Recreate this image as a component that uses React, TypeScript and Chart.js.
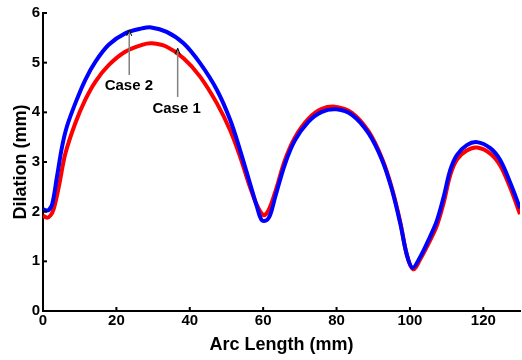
import React, { useEffect, useRef } from "react";
import { Chart, registerables } from "chart.js";

Chart.register(...registerables);

// Case 2 (blue)
const case2X = [0, 0.6, 1.5, 2.5, 3.8, 5.2, 6.5, 8.8, 11.5, 14.3, 17.9, 22.4, 27.0, 29.5, 33.7, 38.3, 42.8, 47.4, 51.0, 53.7, 56.4, 58.3, 59.6, 61, 62, 63.3, 66, 68.7, 72.3, 76, 80, 84.2, 88.7, 92.4, 95.1, 97.4, 99.2, 100.7, 102.8, 105.5, 107.4, 109.2, 111, 112.8, 115.5, 118.3, 121.9, 124.6, 127.4, 130];
const case2Y = [2.05, 2.03, 2.03, 2.15, 2.7, 3.31, 3.71, 4.18, 4.65, 5.02, 5.36, 5.59, 5.69, 5.71, 5.62, 5.39, 4.99, 4.45, 3.85, 3.24, 2.57, 2.1, 1.83, 1.83, 1.95, 2.3, 2.97, 3.44, 3.81, 4.01, 4.06, 3.95, 3.58, 3.04, 2.44, 1.75, 1.12, 0.87, 1.09, 1.5, 1.83, 2.3, 2.84, 3.14, 3.34, 3.4, 3.28, 3.04, 2.57, 2.07];

// Case 1 (red)
const case1X = [0, 1.1, 2.0, 2.9, 4.3, 6.1, 8.8, 11.5, 14.3, 17.9, 22.4, 27.0, 29.7, 33.7, 38.3, 42.8, 47.4, 51.0, 53.7, 56.4, 58.3, 60.1, 61.4, 63.3, 66, 68.7, 72.3, 76, 80, 84.2, 88.7, 92.4, 95.1, 97.4, 99.2, 100.9, 102.8, 105.5, 107.4, 109.2, 111, 112.8, 115.5, 118.3, 121.9, 124.6, 127.4, 130];
const case1Y = [1.92, 1.88, 1.92, 2.05, 2.5, 3.17, 3.78, 4.25, 4.62, 4.95, 5.22, 5.36, 5.39, 5.32, 5.09, 4.72, 4.18, 3.64, 3.11, 2.5, 2.13, 1.93, 2.02, 2.4, 3.05, 3.5, 3.87, 4.07, 4.11, 3.99, 3.62, 3.07, 2.47, 1.78, 1.12, 0.84, 1.04, 1.42, 1.73, 2.18, 2.74, 3.05, 3.23, 3.29, 3.17, 2.93, 2.47, 1.95];

const xTicks = [0, 20, 40, 60, 80, 100, 120];
const yTicks = [0, 1, 2, 3, 4, 5, 6];

// annotations: label, arrow x, arrow bottom y, arrow tip y, text x, text y (data units)
const annLabels = ["Case 2", "Case 1"];
const annX = [23.5, 36.7];
const annFromY = [4.75, 4.31];
const annToY = [5.66, 5.29];
const annTextX = [23.4, 36.4];
const annTextY = [4.53, 4.07];

const FONT = "'Liberation Sans', Arial, sans-serif";

const extrasPlugin = {
  id: "extras",
  afterDraw(chart: any) {
    const { ctx, chartArea, scales } = chart;
    const xs = scales.x;
    const ys = scales.y;
    ctx.save();
    ctx.strokeStyle = "#000";
    ctx.lineWidth = 2;
    xTicks.forEach((v) => {
      const px = xs.getPixelForValue(v);
      ctx.beginPath();
      ctx.moveTo(px, chartArea.bottom);
      ctx.lineTo(px, chartArea.bottom - 4);
      ctx.stroke();
    });
    yTicks.forEach((v) => {
      const py = ys.getPixelForValue(v);
      ctx.beginPath();
      ctx.moveTo(chartArea.left, py);
      ctx.lineTo(chartArea.left + 4, py);
      ctx.stroke();
    });
    annLabels.forEach((label, i) => {
      const ax = xs.getPixelForValue(annX[i]);
      const ay0 = ys.getPixelForValue(annFromY[i]);
      const ay1 = ys.getPixelForValue(annToY[i]);
      ctx.strokeStyle = "#808080";
      ctx.lineWidth = 1.5;
      ctx.beginPath();
      ctx.moveTo(ax, ay0);
      ctx.lineTo(ax, ay1);
      ctx.stroke();
      ctx.strokeStyle = "#000";
      ctx.lineWidth = 1;
      ctx.beginPath();
      ctx.moveTo(ax - 2.5, ay1 + 6);
      ctx.lineTo(ax, ay1);
      ctx.lineTo(ax + 2.5, ay1 + 6);
      ctx.stroke();
      ctx.fillStyle = "#000";
      ctx.font = `bold 15px ${FONT}`;
      ctx.textAlign = "center";
      ctx.textBaseline = "middle";
      ctx.fillText(label, xs.getPixelForValue(annTextX[i]), ys.getPixelForValue(annTextY[i]));
    });
    ctx.restore();
  },
};

export default function App() {
  const ref = useRef<HTMLCanvasElement>(null);
  useEffect(() => {
    if (!ref.current) return;
    const chart = new Chart(ref.current, {
      type: "line",
      data: {
        datasets: [
          {
            label: "Case 2",
            data: case2X.map((x, i) => ({ x, y: case2Y[i] })),
            borderColor: "#0000ff",
            backgroundColor: "#0000ff",
            borderWidth: 4,
            pointRadius: 0,
            tension: 0.35,
            fill: false,
          },
          {
            label: "Case 1",
            data: case1X.map((x, i) => ({ x, y: case1Y[i] })),
            borderColor: "#ff0000",
            backgroundColor: "#ff0000",
            borderWidth: 4,
            pointRadius: 0,
            tension: 0.35,
            fill: false,
          },
        ],
      },
      options: {
        animation: false,
        responsive: false,
        events: [],
        layout: { padding: { top: 13, right: 2, left: 0, bottom: 0 } },
        plugins: { legend: { display: false }, tooltip: { enabled: false } },
        scales: {
          x: {
            type: "linear",
            min: 0,
            max: 130,
            afterBuildTicks: (s: any) => {
              s.ticks = xTicks.map((v) => ({ value: v }));
            },
            afterFit: (s: any) => {
              s.height = 49;
            },
            grid: { display: false, drawTicks: false },
            border: { display: true, color: "#000", width: 2 },
            ticks: {
              color: "#000",
              font: { family: FONT, size: 15, weight: "bold" },
              padding: 1,
              maxRotation: 0,
            },
            title: {
              display: true,
              text: "Arc Length (mm)",
              color: "#000",
              font: { family: FONT, size: 18, weight: "bold" },
              padding: { top: 0, bottom: 4 },
            },
          },
          y: {
            type: "linear",
            min: 0,
            max: 6,
            afterBuildTicks: (s: any) => {
              s.ticks = yTicks.map((v) => ({ value: v }));
            },
            afterFit: (s: any) => {
              s.width = 43;
            },
            grid: { display: false, drawTicks: false },
            border: { display: true, color: "#000", width: 2 },
            ticks: {
              color: "#000",
              font: { family: FONT, size: 15, weight: "bold" },
              padding: 3,
            },
            title: {
              display: true,
              text: "Dilation (mm)",
              color: "#000",
              font: { family: FONT, size: 18, weight: "bold" },
              padding: { top: 10, bottom: 0 },
            },
          },
        },
      },
      plugins: [extrasPlugin],
    } as any);
    return () => chart.destroy();
  }, []);
  return (
    <div style={{ position: "fixed", left: 0, top: 0, width: 522, height: 360, background: "#fff" }}>
      <canvas ref={ref} width={522} height={360} style={{ width: 522, height: 360, display: "block" }} />
    </div>
  );
}
